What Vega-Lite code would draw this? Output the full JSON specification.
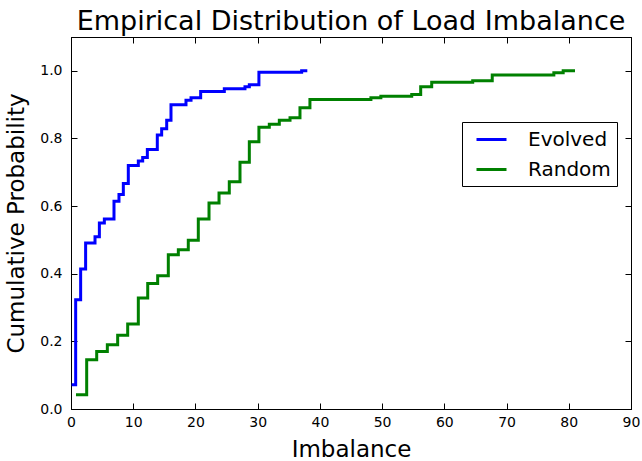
{
  "$schema": "https://vega.github.io/schema/vega-lite/v6.json",
  "width": 560,
  "height": 372,
  "autosize": {"type": "none"},
  "padding": {"left": 71, "top": 37, "right": 11, "bottom": 52},
  "config": {
    "font": "DejaVu Sans",
    "view": {"stroke": "black", "strokeWidth": 1},
    "axis": {"grid": false, "domainColor": "black", "tickColor": "black", "labelColor": "black", "titleColor": "black", "labelFont": "DejaVu Sans", "titleFont": "DejaVu Sans", "titleFontWeight": "normal"}
  },
  "title": {"text": "Empirical Distribution of Load Imbalance", "fontSize": 27, "font": "DejaVu Sans", "fontWeight": "normal", "color": "black", "offset": 1},
  "data": {"values": [
    {"s": "Evolved", "x": 0.1, "y": 0.072},
    {"s": "Evolved", "x": 0.75, "y": 0.323},
    {"s": "Evolved", "x": 1.55, "y": 0.414},
    {"s": "Evolved", "x": 2.35, "y": 0.491},
    {"s": "Evolved", "x": 3.86, "y": 0.509},
    {"s": "Evolved", "x": 4.56, "y": 0.55},
    {"s": "Evolved", "x": 5.36, "y": 0.562},
    {"s": "Evolved", "x": 6.91, "y": 0.614},
    {"s": "Evolved", "x": 7.71, "y": 0.634},
    {"s": "Evolved", "x": 8.41, "y": 0.667},
    {"s": "Evolved", "x": 9.21, "y": 0.72},
    {"s": "Evolved", "x": 10.82, "y": 0.733},
    {"s": "Evolved", "x": 11.52, "y": 0.744},
    {"s": "Evolved", "x": 12.27, "y": 0.767},
    {"s": "Evolved", "x": 13.87, "y": 0.81},
    {"s": "Evolved", "x": 14.57, "y": 0.829},
    {"s": "Evolved", "x": 15.38, "y": 0.854},
    {"s": "Evolved", "x": 16.07, "y": 0.9},
    {"s": "Evolved", "x": 18.48, "y": 0.913},
    {"s": "Evolved", "x": 19.29, "y": 0.92},
    {"s": "Evolved", "x": 20.84, "y": 0.939},
    {"s": "Evolved", "x": 24.64, "y": 0.947},
    {"s": "Evolved", "x": 27.96, "y": 0.953},
    {"s": "Evolved", "x": 28.66, "y": 0.959},
    {"s": "Evolved", "x": 30.2, "y": 0.996},
    {"s": "Evolved", "x": 37.07, "y": 1.0},
    {"s": "Evolved", "x": 37.98, "y": 1.0},
    {"s": "Random", "x": 0.8, "y": 0.042},
    {"s": "Random", "x": 2.52, "y": 0.146},
    {"s": "Random", "x": 4.13, "y": 0.17},
    {"s": "Random", "x": 5.84, "y": 0.19},
    {"s": "Random", "x": 7.5, "y": 0.218},
    {"s": "Random", "x": 9.11, "y": 0.251},
    {"s": "Random", "x": 10.82, "y": 0.328},
    {"s": "Random", "x": 12.33, "y": 0.371},
    {"s": "Random", "x": 13.93, "y": 0.394},
    {"s": "Random", "x": 15.64, "y": 0.456},
    {"s": "Random", "x": 17.25, "y": 0.471},
    {"s": "Random", "x": 18.85, "y": 0.499},
    {"s": "Random", "x": 20.46, "y": 0.562},
    {"s": "Random", "x": 22.18, "y": 0.609},
    {"s": "Random", "x": 23.79, "y": 0.639},
    {"s": "Random", "x": 25.44, "y": 0.672},
    {"s": "Random", "x": 27.16, "y": 0.73},
    {"s": "Random", "x": 28.66, "y": 0.79},
    {"s": "Random", "x": 30.2, "y": 0.833},
    {"s": "Random", "x": 31.87, "y": 0.842},
    {"s": "Random", "x": 33.48, "y": 0.854},
    {"s": "Random", "x": 35.2, "y": 0.861},
    {"s": "Random", "x": 36.8, "y": 0.891},
    {"s": "Random", "x": 38.4, "y": 0.915},
    {"s": "Random", "x": 48.2, "y": 0.92},
    {"s": "Random", "x": 49.8, "y": 0.925},
    {"s": "Random", "x": 54.76, "y": 0.93},
    {"s": "Random", "x": 56.2, "y": 0.953},
    {"s": "Random", "x": 57.97, "y": 0.966},
    {"s": "Random", "x": 64.56, "y": 0.971},
    {"s": "Random", "x": 67.7, "y": 0.988},
    {"s": "Random", "x": 77.6, "y": 0.994},
    {"s": "Random", "x": 79.1, "y": 1.0},
    {"s": "Random", "x": 81.0, "y": 1.0}
  ]},
  "layer": [
    {
      "mark": {"type": "line", "interpolate": "step-after", "strokeWidth": 3, "clip": true},
      "encoding": {
        "x": {"field": "x", "type": "quantitative", "scale": {"domain": [0, 90], "nice": false, "zero": false},
          "axis": {"title": "Imbalance", "titleFontSize": 23, "titlePadding": 9, "labelFontSize": 14, "values": [0,10,20,30,40,50,60,70,80,90], "tickSize": -6, "labelPadding": 12, "labelFlush": false}},
        "y": {"field": "y", "type": "quantitative", "scale": {"domain": [0, 1.1], "nice": false, "zero": false},
          "axis": {"title": "Cumulative Probability", "titleFontSize": 23, "titlePadding": 11, "labelFontSize": 14, "values": [0,0.2,0.4,0.6,0.8,1.0], "format": ".1f", "tickSize": -6, "labelPadding": 15, "labelFlush": false}},
        "color": {"field": "s", "type": "nominal", "scale": {"domain": ["Evolved", "Random"], "range": ["#0000ff", "#008000"]},
          "legend": {"title": null, "orient": "none", "legendX": 391, "legendY": 85, "symbolType": "M-0.9,0H2.1", "symbolSize": 400, "symbolStrokeWidth": 3, "symbolOffset": 6, "labelFontSize": 20, "labelFont": "DejaVu Sans", "labelColor": "black", "strokeColor": "black", "fillColor": "white", "padding": 6, "rowPadding": 8, "labelOffset": 31, "offset": 0}}
      }
    },
    {
      "mark": {"type": "line", "opacity": 0},
      "encoding": {
        "x": {"field": "x", "type": "quantitative", "axis": {"orient": "top", "labels": false, "title": null, "values": [0,10,20,30,40,50,60,70,80,90], "tickSize": -6}},
        "y": {"field": "y", "type": "quantitative", "axis": {"orient": "right", "labels": false, "title": null, "values": [0,0.2,0.4,0.6,0.8,1.0], "tickSize": -6}}
      }
    }
  ],
  "resolve": {"axis": {"x": "independent", "y": "independent"}}
}
